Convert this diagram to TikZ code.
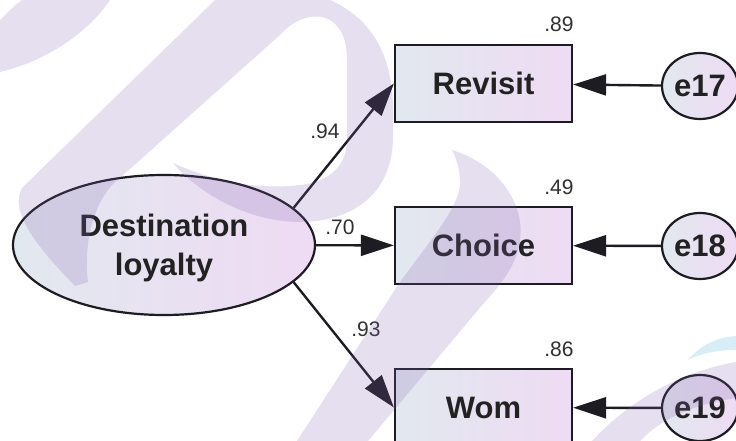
\documentclass[tikz,border=0pt]{standalone}
\usepackage{fontspec}
\setmainfont{Liberation Sans}
\usetikzlibrary{shapes.geometric,arrows.meta}

\definecolor{edgeink}{HTML}{1C1C22}
\definecolor{textink}{HTML}{222222}
\definecolor{coefink}{HTML}{303030}
\definecolor{fillL}{HTML}{E2E8EF}
\definecolor{fillR}{HTML}{EEDBF4}
\definecolor{wmpurple}{RGB}{128,96,176}
\definecolor{wmblue}{RGB}{80,180,215}

\begin{document}
\begin{tikzpicture}[x=1pt,y=-1pt,
  latent/.style={ellipse, draw=edgeink, line width=2.2pt,
    left color=fillL, right color=fillR, inner sep=0pt,
    minimum width=302pt, minimum height=140pt, align=center,
    text depth=0pt,
    text=textink, font=\fontsize{31}{39}\selectfont\bfseries},
  observed/.style={rectangle, draw=edgeink, line width=2.2pt,
    left color=fillL, right color=fillR, inner sep=0pt,
    minimum width=177pt, minimum height=77pt,
    text=textink, font=\fontsize{31}{34}\selectfont\bfseries},
  errvar/.style={ellipse, draw=edgeink, line width=2.2pt,
    left color=fillL, right color=fillR, inner sep=0pt,
    minimum width=76pt, minimum height=66pt,
    text=textink, font=\fontsize{31}{34}\selectfont\bfseries},
  pathto/.style={draw=edgeink, line width=2.4pt,
    -{Triangle[length=33pt,width=21pt]}},
  coef/.style={inner sep=0pt, text=coefink,
    font=\fontsize{21}{24}\selectfont},
  wm/.style={fill=wmpurple, fill opacity=0.2},
  wmb/.style={fill=wmblue, fill opacity=0.22},
]
\clip (0,0) rectangle (736,441);
\fill[white] (0,0) rectangle (736,441);

% latent factor
\node[latent] (dl) at (164,245) {Destination\\loyalty};

% indicators
\node[observed] (rev) at (483.5,83.5) {Revisit};
\node[observed] (cho) at (483.5,245.5) {Choice};
\node[observed] (wom) at (483.5,407.5) {Wom};

% error terms
\node[errvar] (e17) at (700,86) {e17};
\node[errvar] (e18) at (700,246) {e18};
\node[errvar] (e19) at (700,408) {e19};

% loadings
\draw[pathto] (dl.16) -- (rev.west);
\draw[pathto] (dl) -- (cho);
\draw[pathto] (dl.-16) -- (wom.west);

% error paths
\draw[pathto] (e17) -- (rev);
\draw[pathto] (e18) -- (cho);
\draw[pathto] (e19) -- (wom);

% coefficients
\node[coef] (c94) at (325,131) {.94};
\node[coef] (c70) at (340,227) {.70};
\node[coef] (c93) at (366,329) {.93};
\node[coef] (r89) at (559,24) {.89};
\node[coef] (r49) at (559,187) {.49};
\node[coef] (r86) at (559,349) {.86};

% translucent background swooshes
\fill[wm] (0,20) .. controls (8,12) and (15,5) .. (22,0) -- (110,0)
  .. controls (90,30) and (50,60) .. (0,72) -- cycle;
\fill[wm] (75,286) .. controls (40,250) and (8,212) .. (22,188)
  -- (215,0) -- (330,0) .. controls (375,20) and (393,60) .. (393,110)
  -- (393,140) .. controls (391,200) and (345,222) .. (300,222)
  .. controls (250,222) and (200,195) .. (173,163)
  .. controls (215,182) and (260,190) .. (300,185)
  .. controls (330,182) and (347,165) .. (347,140)
  -- (347,65) .. controls (347,45) and (345,30) .. (330,20)
  .. controls (315,12) and (295,18) .. (280,35)
  -- (112,185) .. controls (90,210) and (84,250) .. (88,282) -- cycle;
\fill[wm] (452,150) .. controls (500,165) and (525,205) .. (520,240)
  .. controls (516,270) and (495,290) .. (478,310) -- (368,441)
  -- (297,441) -- (398,285) .. controls (430,240) and (462,205) .. (460,180)
  .. controls (459,168) and (457,160) .. (452,150) -- cycle;
\fill[wm] (592,441) .. controls (630,400) and (680,372) .. (736,362)
  -- (736,398) .. controls (690,405) and (660,420) .. (640,441) -- cycle;
\fill[wmb] (688,360) .. controls (700,345) and (718,337) .. (736,336)
  -- (736,350) .. controls (718,350) and (702,353) .. (688,360) -- cycle;
\end{tikzpicture}
\end{document}
